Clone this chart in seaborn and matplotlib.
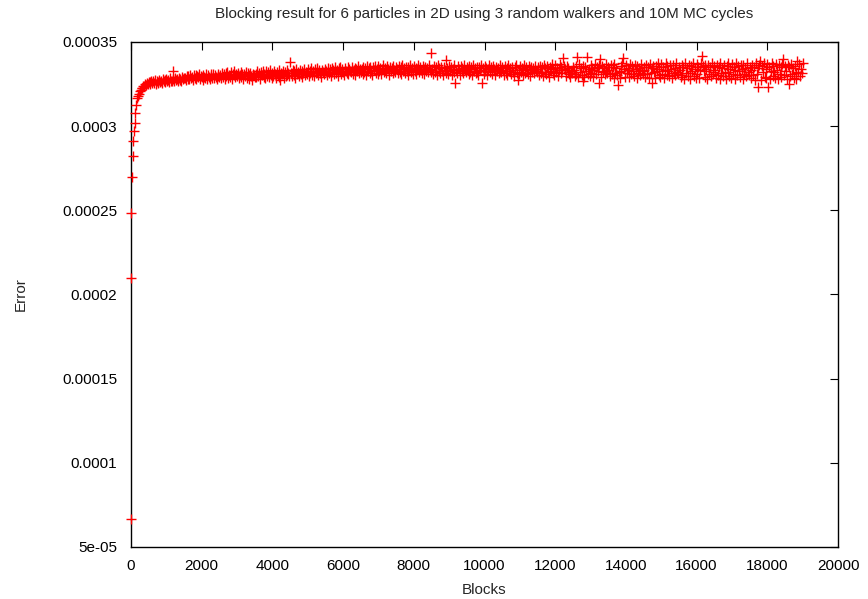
import numpy as np
import pandas as pd
import matplotlib
matplotlib.use("Agg")
import matplotlib.pyplot as plt
import seaborn as sns

# Error values stored in units of 1e-7
early_blocks = [1, 5, 10, 30, 50, 70, 85, 100, 120, 150, 175, 200, 225, 250,
                275, 300, 325, 350, 375, 400, 425, 450, 475, 500]
early_vals = [664, 2097, 2485, 2699, 2822, 2913, 2973, 3020, 3080, 3125, 3165,
              3182, 3190, 3207, 3212, 3224, 3226, 3238, 3236, 3248, 3245, 3257, 3251, 3262]

seg_a = [3262, 3249, 3270, 3255, 3266, 3258, 3274, 3251, 3268, 3263,
         3257, 3276, 3264, 3270, 3259, 3279, 3266, 3273, 3261, 3280,
         3268, 3275, 3263, 3284, 3271, 3266, 3330, 3278, 3269, 3286,
         3274, 3281, 3267, 3288, 3276, 3283, 3271, 3290, 3279, 3285]
seg_b = [3289, 3274, 3300, 3281, 3296, 3278, 3303, 3285, 3294, 3275,
         3301, 3284, 3306, 3280, 3297, 3290, 3308, 3282, 3299, 3291,
         3276, 3305, 3293, 3285, 3310, 3283, 3301, 3294, 3279, 3307,
         3296, 3287, 3312, 3284, 3303, 3295, 3280, 3309, 3298, 3290]
seg_c = [3302, 3284, 3318, 3295, 3309, 3280, 3314, 3299, 3322, 3288,
         3306, 3293, 3319, 3282, 3311, 3301, 3325, 3290, 3308, 3297,
         3316, 3285, 3303, 3320, 3292, 3312, 3279, 3307, 3298, 3323,
         3289, 3315, 3304, 3283, 3318, 3296, 3275, 3310, 3301, 3291]
seg_d = [3308, 3290, 3325, 3297, 3316, 3283, 3321, 3303, 3330, 3294,
         3312, 3286, 3327, 3300, 3319, 3291, 3334, 3305, 3288, 3317,
         3298, 3326, 3310, 3284, 3322, 3302, 3331, 3293, 3276, 3315,
         3307, 3328, 3289, 3320, 3299, 3335, 3304, 3318, 3296, 3382]
seg_e = [3318, 3296, 3332, 3305, 3325, 3289, 3338, 3311, 3322, 3300,
         3335, 3308, 3293, 3328, 3315, 3341, 3302, 3324, 3310, 3337,
         3297, 3330, 3318, 3344, 3306, 3327, 3299, 3339, 3313, 3321,
         3345, 3304, 3333, 3316, 3291, 3336, 3320, 3309, 3342, 3325]
seg_f = [3328, 3305, 3346, 3314, 3339, 3300, 3343, 3320, 3335, 3309,
         3349, 3317, 3331, 3298, 3344, 3325, 3352, 3311, 3338, 3322,
         3303, 3347, 3329, 3316, 3354, 3308, 3341, 3327, 3319, 3350,
         3312, 3336, 3345, 3304, 3339, 3330, 3356, 3318, 3342, 3323]
seg_g = [3340, 3312, 3353, 3321, 3347, 3306, 3358, 3329, 3344, 3315,
         3351, 3325, 3303, 3349, 3334, 3360, 3318, 3342, 3310, 3355,
         3327, 3346, 3308, 3337, 3361, 3320, 3348, 3331, 3314, 3356,
         3339, 3305, 3352, 3326, 3345, 3317, 3359, 3333, 3322, 3350]
seg_h = [3341, 3314, 3356, 3323, 3349, 3308, 3362, 3330, 3345, 3318,
         3353, 3327, 3305, 3350, 3336, 3363, 3320, 3344, 3312, 3358,
         3329, 3348, 3310, 3339, 3364, 3322, 3351, 3333, 3316, 3357,
         3340, 3307, 3354, 3328, 3346, 3319, 3361, 3335, 3324, 3433]
seg_i = [3339, 3310, 3357, 3322, 3350, 3305, 3363, 3328, 3346, 3315,
         3354, 3325, 3302, 3351, 3333, 3392, 3318, 3345, 3309, 3360,
         3327, 3349, 3306, 3340, 3365, 3320, 3258, 3336, 3313, 3358,
         3342, 3304, 3355, 3326, 3347, 3317, 3362, 3331, 3321, 3352]
seg_j = [3337, 3309, 3356, 3320, 3349, 3303, 3362, 3327, 3344, 3314,
         3353, 3324, 3301, 3350, 3332, 3366, 3256, 3343, 3308, 3359,
         3326, 3347, 3305, 3338, 3364, 3319, 3352, 3334, 3312, 3357,
         3341, 3302, 3354, 3325, 3346, 3316, 3361, 3330, 3320, 3351]
seg_k = [3336, 3306, 3355, 3318, 3348, 3301, 3363, 3325, 3343, 3312,
         3352, 3322, 3299, 3349, 3331, 3365, 3315, 3274, 3307, 3358,
         3324, 3346, 3303, 3337, 3364, 3317, 3351, 3333, 3310, 3357,
         3340, 3300, 3353, 3323, 3345, 3314, 3360, 3329, 3319, 3350]
seg_l = [3337, 3303, 3358, 3316, 3349, 3297, 3366, 3324, 3344, 3309,
         3355, 3320, 3295, 3351, 3330, 3368, 3313, 3341, 3302, 3361,
         3322, 3347, 3299, 3336, 3367, 3314, 3352, 3332, 3405, 3359,
         3340, 3296, 3356, 3321, 3345, 3311, 3290, 3328, 3318, 3351]
seg_m = [3336, 3299, 3360, 3312, 3410, 3293, 3368, 3321, 3345, 3305,
         3357, 3270, 3291, 3353, 3328, 3410, 3309, 3342, 3298, 3363,
         3318, 3348, 3294, 3335, 3370, 3311, 3354, 3330, 3258, 3361,
         3400, 3292, 3358, 3319, 3346, 3307, 3372, 3326, 3315, 3352]
seg_n = [3335, 3296, 3362, 3309, 3350, 3288, 3370, 3318, 3344, 3302,
         3244, 3322, 3286, 3355, 3327, 3373, 3405, 3340, 3295, 3365,
         3314, 3348, 3290, 3334, 3372, 3307, 3356, 3329, 3299, 3363,
         3338, 3287, 3359, 3316, 3347, 3304, 3371, 3325, 3312, 3353]
seg_o = [3334, 3293, 3363, 3308, 3351, 3285, 3372, 3317, 3345, 3258,
         3360, 3320, 3284, 3356, 3326, 3375, 3303, 3341, 3292, 3367,
         3312, 3349, 3288, 3333, 3374, 3305, 3357, 3328, 3297, 3364,
         3337, 3286, 3361, 3314, 3348, 3301, 3373, 3323, 3310, 3354]
seg_p = [3335, 3290, 3365, 3306, 3352, 3282, 3374, 3315, 3346, 3298,
         3362, 3318, 3281, 3357, 3325, 3377, 3300, 3342, 3289, 3369,
         3310, 3350, 3285, 3332, 3376, 3417, 3358, 3327, 3294, 3366,
         3338, 3283, 3363, 3312, 3349, 3299, 3375, 3321, 3308, 3355]
seg_q = [3333, 3288, 3364, 3304, 3351, 3280, 3373, 3313, 3345, 3296,
         3361, 3316, 3279, 3356, 3324, 3376, 3298, 3341, 3287, 3368,
         3308, 3349, 3283, 3331, 3375, 3302, 3357, 3326, 3292, 3365,
         3337, 3281, 3362, 3310, 3348, 3297, 3374, 3319, 3306, 3354]
seg_r = [3332, 3285, 3366, 3301, 3353, 3277, 3375, 3311, 3346, 3234,
         3362, 3389, 3276, 3357, 3322, 3378, 3295, 3342, 3284, 3370,
         3230, 3350, 3280, 3330, 3377, 3299, 3358, 3324, 3289, 3367,
         3336, 3278, 3363, 3307, 3349, 3293, 3372, 3399, 3303, 3355]
seg_s = [3330, 3283, 3364, 3250, 3351, 3296, 3372, 3308, 3344, 3289,
         3360, 3314, 3279, 3389, 3322, 3368, 3300, 3341, 3315, 3375]

main_start = 525
main_step = 25

xticks = [0, 2000, 4000, 6000, 8000, 10000, 12000, 14000, 16000, 18000, 20000]
yticks = [5e-05, 0.0001, 0.00015, 0.0002, 0.00025, 0.0003, 0.00035]
ytick_labels = ["5e-05", "0.0001", "0.00015", "0.0002", "0.00025", "0.0003", "0.00035"]

main_vals = (seg_a + seg_b + seg_c + seg_d + seg_e + seg_f + seg_g + seg_h + seg_i
             + seg_j + seg_k + seg_l + seg_m + seg_n + seg_o + seg_p + seg_q + seg_r + seg_s)
main_blocks = list(range(main_start, main_start + main_step * len(main_vals), main_step))

df = pd.DataFrame({
    "Blocks": early_blocks + main_blocks,
    "Error": np.array(early_vals + main_vals, dtype=float) * 1e-7,
})

sns.set_style("white")
plt.rcParams["font.family"] = ["Liberation Sans", "DejaVu Sans"]

fig = plt.figure(figsize=(8.68, 5.99), dpi=100)
ax = fig.add_axes([131 / 868, 1 - 547 / 599, (838 - 131) / 868, (547 - 42) / 599])

sns.scatterplot(data=df, x="Blocks", y="Error", ax=ax, marker="+", color="#ff0000",
                s=42, linewidth=1.0, legend=False, clip_on=False, zorder=3)

ax.set_xlim(0, 20000)
ax.set_ylim(5e-05, 0.00035)
ax.set_xticks(xticks)
ax.set_xticklabels([str(t) for t in xticks])
ax.set_yticks(yticks)
ax.set_yticklabels(ytick_labels)
ax.tick_params(direction="in", length=5.5, width=0.8, top=True, right=True,
               labelsize=11, colors="black")
ax.tick_params(axis="y", pad=10)
ax.tick_params(axis="x", pad=9)
for sp in ax.spines.values():
    sp.set_visible(True)
    sp.set_color("black")
    sp.set_linewidth(1.0)

ax.set_xlabel("Blocks", fontsize=11, labelpad=7)
ax.set_ylabel("Error", fontsize=11, labelpad=25)
ax.set_title("Blocking result for 6 particles in 2D using 3 random walkers and 10M MC cycles",
             fontsize=11, pad=17)

fig.savefig("out.png", dpi=100, facecolor="white")
